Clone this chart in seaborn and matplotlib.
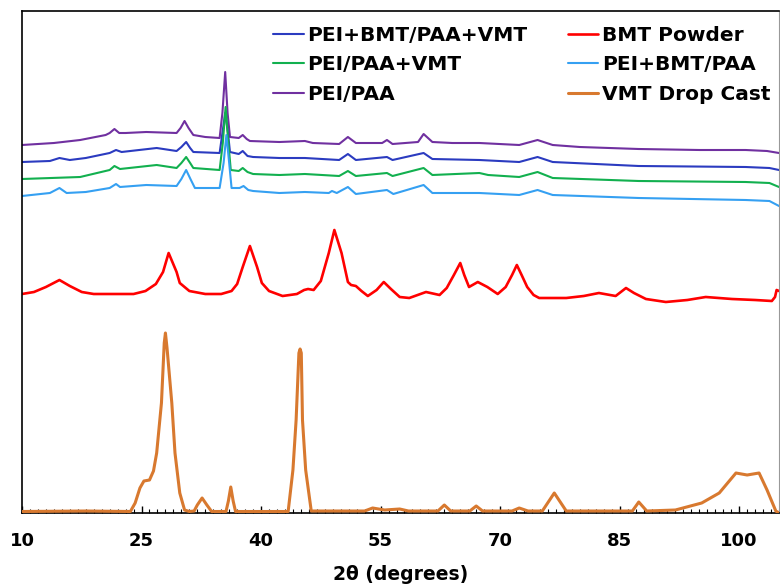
import matplotlib
matplotlib.use("Agg")
import matplotlib.pyplot as plt
from matplotlib.ticker import MultipleLocator
import numpy as np
import pandas as pd
import seaborn as sns

# ---------------- data (arbitrary intensity units) ----
purple_x = [10, 14, 17.3, 20.5, 21.0, 21.6, 22.2, 23, 25.6, 29.4, 29.9, 30.4, 30.9, 31.5, 33, 34.8,
            35.15, 35.5, 35.8, 36.1, 37.2, 37.7, 38.2, 38.6, 42.3, 45.5, 46.5, 49.8, 50.9, 51.9,
            55.2, 55.8, 56.5, 59.7, 60.4, 61.5, 64, 67.4, 72.4, 74.7, 76.6, 80, 87.4, 95, 100.8, 103.5, 105]
purple_y = [368, 370, 373, 378, 380, 384, 380, 380, 381, 380, 385, 392, 385, 378, 376, 375,
            400, 441, 400, 376, 375, 378, 374, 372, 371, 372, 370, 369, 376, 370,
            370, 373, 369, 371, 379, 371, 370, 370, 368, 373, 368, 366, 364, 363, 363, 362, 360]

blue_x = [10, 13.5, 14.7, 16.0, 18, 21.0, 21.8, 22.5, 26.9, 29.4, 30.0, 30.6, 31.1, 31.5, 34.8,
          35.15, 35.5, 35.85, 36.1, 37.2, 37.7, 38.3, 39.0, 42.3, 45.5, 49.8, 50.9, 51.9, 55.8,
          56.5, 60.4, 61.5, 67.4, 72.4, 74.7, 76.6, 87.4, 100.8, 103.8, 105]
blue_y = [351, 352, 355, 353, 355, 360, 363, 361, 365, 362, 366, 371, 365, 361, 360,
          380, 400, 380, 361, 359, 362, 357, 356, 355, 355, 353, 359, 353, 356,
          353, 360, 354, 353, 351, 356, 351, 347, 346, 345, 343]

green_x = [10, 17.3, 21.0, 21.6, 22.3, 26.9, 29.4, 30.0, 30.6, 31.1, 31.5, 34.8, 35.2, 35.55, 35.9,
           36.2, 37.2, 37.7, 38.3, 39.0, 42.3, 45.5, 49.8, 50.9, 51.9, 55.8, 56.5, 60.4, 61.5,
           67.4, 68.5, 72.4, 74.7, 76.6, 87.4, 100.8, 103.8, 105]
green_y = [334, 336, 343, 347, 344, 348, 345, 350, 356, 350, 345, 343, 370, 406, 370,
           343, 342, 345, 341, 339, 338, 339, 337, 342, 337, 340, 337, 345, 338,
           340, 338, 336, 341, 335, 332, 331, 330, 326]

lblue_x = [10, 13.5, 14.7, 15.6, 18, 21.0, 21.8, 22.3, 25.6, 29.4, 30.0, 30.6, 31.2, 31.7, 34.8,
           35.3, 35.65, 36.0, 36.3, 37.3, 37.8, 38.4, 39.0, 42.3, 45.5, 48.5, 48.9, 49.5, 50.9,
           51.9, 55.8, 56.6, 60.4, 61.5, 67.4, 72.4, 74.7, 76.6, 87.4, 100.8, 103.8, 105]
lblue_y = [317, 320, 325, 320, 321, 325, 329, 326, 328, 327, 334, 343, 333, 325, 325,
           350, 378, 350, 325, 325, 327, 323, 322, 320, 321, 320, 322, 320, 326,
           319, 323, 319, 328, 320, 320, 318, 323, 318, 315, 313, 312, 307]

red_x = [10, 11.5, 13, 14.7, 16, 17.5, 19, 24, 25.5, 26.8, 27.7, 28.4, 29.4, 29.8, 31, 33, 35,
         36.3, 37.0, 37.7, 38.6, 39.5, 40.1, 41, 42.7, 44.5, 45.4, 45.9, 46.6, 47.5, 48.5, 49.2,
         50.1, 50.9, 51.3, 51.9, 52.6, 53.4, 54.5, 55.4, 56.3, 57.4, 58.6, 60.7, 62.4, 63.3,
         64.2, 65.0, 65.5, 66.1, 67.2, 68.4, 69.7, 70.7, 71.5, 72.1, 72.7, 73.4, 74.2, 74.9,
         78.3, 80.5, 82.4, 84.5, 85.8, 86.8, 88.3, 90.8, 93.5, 95.8, 99.1, 102, 104.1, 104.5,
         104.7, 105]
red_y = [219, 221, 226, 233, 227, 221, 219, 219, 222, 229, 241, 260, 241, 230, 222, 219, 219,
         222, 229, 246, 267, 246, 230, 222, 217, 219, 223, 224, 223, 232, 260, 283,
         260, 231, 228, 227, 222, 217, 223, 231, 224, 216, 215, 221, 218, 225,
         238, 250, 238, 226, 231, 226, 219, 226, 238, 248, 238, 226, 218, 215,
         215, 217, 220, 217, 225, 220, 214, 211, 213, 216, 214, 213, 212, 216,
         223, 222]

orange_x = [10, 18, 23.6, 24.2, 24.8, 25.3, 26.0, 26.5, 26.9, 27.5, 27.85, 28.0, 28.2, 28.8, 29.2,
            29.8, 30.4, 31.0, 31.6, 32.0, 32.6, 33.2, 33.8, 35.6, 35.9, 36.2, 36.5, 36.8, 43.4,
            44.0, 44.4, 44.75, 44.9, 45.05, 45.2, 45.6, 46.3, 53, 54, 55.5, 57.4, 58.5, 62.2,
            63.0, 63.8, 66.2, 67.0, 67.8, 71.5, 72.4, 73.5, 75.3, 76.8, 78.3, 86.6, 87.4, 88.4,
            92.0, 95.3, 97.5, 99.6, 101, 102.5, 103.5, 104.6, 105]
orange_y = [1.5, 2, 1.5, 10, 25, 32, 33, 42, 60, 110, 170, 180, 165, 110, 60,
            20, 3, 1.5, 2, 8, 15, 8, 1.5, 1.5, 12, 26, 12, 1.5, 1.5,
            43, 93, 160, 164, 160, 93, 43, 2, 2, 5, 3, 4, 2, 2,
            8, 2, 2, 7, 2, 2, 5, 2, 2, 20, 2, 2, 11, 2,
            3, 10, 20, 40, 38, 40, 23, 2, 0]

x_ticks = [10, 25, 40, 55, 70, 85, 100]

# ---------------- plot ----------------
sns.set_style("white")
plt.rcParams["font.family"] = ["DejaVu Sans"]
plt.rcParams["text.color"] = "black"
plt.rcParams["axes.labelcolor"] = "black"
plt.rcParams["xtick.color"] = "black"
plt.rcParams["xtick.labelcolor"] = "black"

fig = plt.figure(figsize=(7.8, 5.88), dpi=100)
ax = fig.add_axes([22 / 780, 75 / 588, 757 / 780, 502 / 588])

series = [
    ("PEI/PAA", purple_x, purple_y, "#7030A0", 1.5, 2),
    ("PEI+BMT/PAA+VMT", blue_x, blue_y, "#2B3BC0", 1.5, 2),
    ("PEI/PAA+VMT", green_x, green_y, "#12B04F", 1.5, 2),
    ("PEI+BMT/PAA", lblue_x, lblue_y, "#35A0F2", 1.5, 2),
    ("BMT Powder", red_x, red_y, "#FF0000", 1.9, 2),
    ("VMT Drop Cast", orange_x, orange_y, "#D8792F", 2.2, 3),
]

handles = {}
for name, xs, ys, col, lw, z in series:
    df = pd.DataFrame({"x": xs, "y": ys})
    sns.lineplot(data=df, x="x", y="y", ax=ax, color=col, linewidth=lw,
                 estimator=None, sort=False, zorder=z)
    handles[name] = ax.lines[-1]

order = ["PEI+BMT/PAA+VMT", "PEI/PAA+VMT", "PEI/PAA",
         "BMT Powder", "PEI+BMT/PAA", "VMT Drop Cast"]
leg = ax.legend([handles[n] for n in order], order, ncol=2, loc="upper right",
                bbox_to_anchor=(0.989, 0.971), frameon=False,
                prop={"weight": "bold", "size": 14.5}, handlelength=1.5,
                handletextpad=0.2, columnspacing=2.0, labelspacing=0.54,
                borderaxespad=0, borderpad=0)
for t in leg.get_texts():
    t.set_color("black")

ax.set_xlim(10, 105)
ax.set_ylim(0, 502)
ax.set_xticks(x_ticks)
ax.set_xticklabels([str(t) for t in x_ticks], fontweight="bold", fontsize=13)
ax.xaxis.set_minor_locator(MultipleLocator(1))
ax.tick_params(axis="x", which="major", direction="in", length=5, width=1,
               pad=13.5, bottom=True, colors="black")
ax.tick_params(axis="x", which="minor", direction="in", length=3, width=0.8,
               bottom=True, color="black")
ax.set_yticks([])
ax.set_ylabel("")
ax.set_xlabel("2θ (degrees)", fontsize=13.5, fontweight="bold", labelpad=11,
              color="black")

for s in ["left", "top", "bottom"]:
    ax.spines[s].set_color("black")
    ax.spines[s].set_linewidth(1.2)
ax.spines["right"].set_color("#999999")
ax.spines["right"].set_linewidth(0.8)

fig.savefig("out.png", dpi=100)
